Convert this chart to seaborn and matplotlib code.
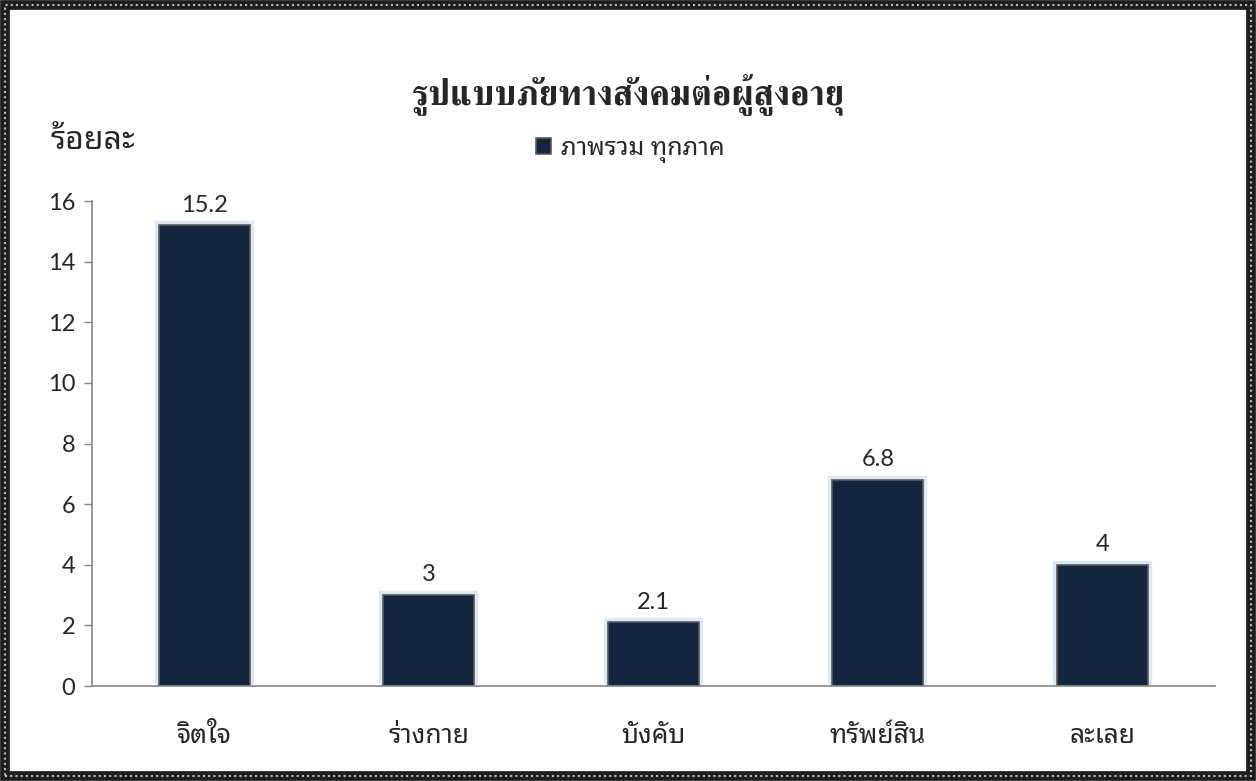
import matplotlib
matplotlib.use("Agg")
import matplotlib.pyplot as plt
import matplotlib.patheffects as pe
from matplotlib.patches import Rectangle
import pandas as pd
import seaborn as sns

# data
categories = ["จิตใจ", "ร่างกาย", "บังคับ", "ทรัพย์สิน", "ละเลย"]
values = [15.2, 3, 2.1, 6.8, 4]
series_name = "ภาพรวม ทุกภาค"
title = "รูปแบบภัยทางสังคมต่อผู้สูงอายุ"
y_label = "ร้อยละ"
y_ticks = [0, 2, 4, 6, 8, 10, 12, 14, 16]

df = pd.DataFrame({"cat": categories, "val": values})

sns.set_style("white")
thai = ["Noto Sans Thai Looped", "Lato", "DejaVu Sans"]
num = ["Lato", "DejaVu Sans"]
plt.rcParams["font.family"] = thai

fig = plt.figure(figsize=(12.56, 7.81), dpi=100)
ax = fig.add_axes([0.0732, 0.1216, 0.8938, 0.621])

bar_col = "#14253f"
sns.barplot(data=df, x="cat", y="val", color=bar_col, width=0.405,
            edgecolor="#5a5a5a", linewidth=1.2, saturation=1,
            label=series_name, ax=ax)

# soft blue glow around the bars
for p in ax.patches:
    p.set_path_effects([pe.Stroke(linewidth=6, foreground="#b7cdea", alpha=0.45),
                        pe.Normal()])

ax.set_ylim(0, 16)
ax.set_yticks(y_ticks)
ax.set_xlim(-0.5, len(categories) - 0.5)
for lab in ax.get_yticklabels():
    lab.set_fontfamily(num)
    lab.set_fontsize(17)
ax.tick_params(axis="y", length=6, width=1, color="#868686", pad=6, direction="out", left=True)
ax.tick_params(axis="x", length=0, pad=26, labelsize=19)

for s in ["top", "right"]:
    ax.spines[s].set_visible(False)
for s in ["left", "bottom"]:
    ax.spines[s].set_color("#868686")
    ax.spines[s].set_linewidth(1.2)
    ax.spines[s].set_zorder(5)

ax.set_xlabel("")
ax.set_ylabel("")

for c in ax.containers:
    ax.bar_label(c, fmt="%g", padding=7, fontsize=17, family=num)

fig.text(0.5, 0.88, title, ha="center", va="center", fontsize=25.5,
         fontweight="bold", family=["FreeSerif", "DejaVu Serif"])
fig.text(0.04, 0.82, y_label, ha="left", va="center", fontsize=23,
         fontweight="bold")

leg = ax.legend(loc="center", bbox_to_anchor=(0.502, 0.809),
                bbox_transform=fig.transFigure, frameon=False, fontsize=18,
                handlelength=0.6, handleheight=0.6, handletextpad=0.4)
for h in leg.legend_handles:
    h.set_path_effects([])

# patterned outer frame
fig.patches.append(Rectangle((0.004, 0.006), 0.992, 0.988, transform=fig.transFigure,
                             fill=False, edgecolor="#1e1e1e", linewidth=7))
fig.patches.append(Rectangle((0.004, 0.006), 0.992, 0.988, transform=fig.transFigure,
                             fill=False, edgecolor="#bdbdbd", linewidth=1.5,
                             linestyle=(0, (1, 1.5))))

fig.savefig("out.png", dpi=100)
